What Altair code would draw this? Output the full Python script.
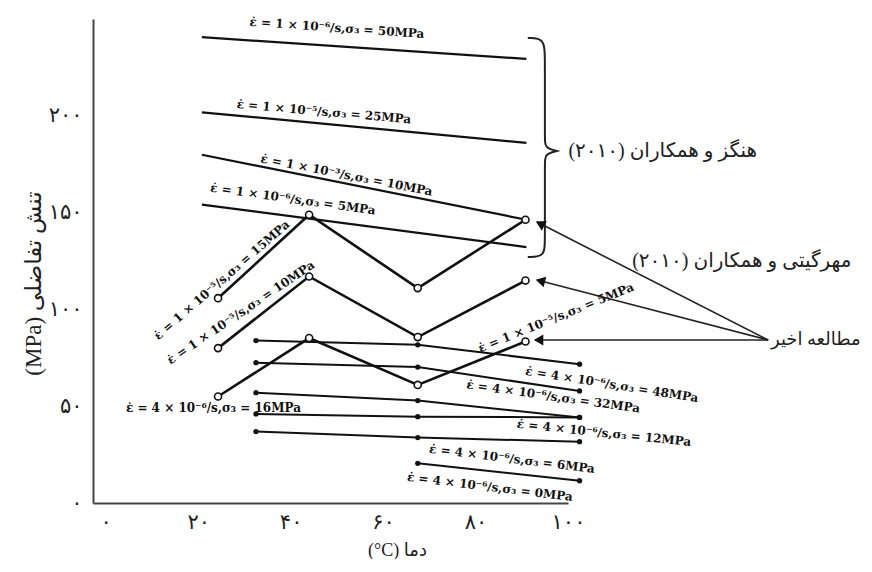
import math
import altair as alt
import pandas as pd

# ---------------- data ----------------
x_ticks = [0, 20, 40, 60, 80, 100]
x_tick_labels = ["۰", "۲۰", "۴۰", "۶۰", "۸۰", "۱۰۰"]
y_ticks = [0, 50, 100, 150, 200]
y_tick_labels = ["۰", "۵۰", "۱۰۰", "۱۵۰", "۲۰۰"]

x_title = "(°C) دما"
y_title = "(MPa) تنش تفاضلی"

EPS = "ε\u0307"

# Hengz et al. (2010) - straight lines
hengz_x = [20.8, 91.0]
hengz_start = [240.6, 201.8, 179.9, 154.1]
hengz_end = [229.4, 186.0, 146.3, 132.2]
hengz_labels = [
    EPS + " = 1 × 10⁻⁶/s,σ₃ = 50MPa",
    EPS + " = 1 × 10⁻⁵/s,σ₃ = 25MPa",
    EPS + " = 1 × 10⁻³/s,σ₃ = 10MPa",
    EPS + " = 1 × 10⁻⁶/s,σ₃ = 5MPa",
]

# recent study - open circles, zig-zag
recent_x = [24.3, 44.0, 67.5, 90.8]
recent_15 = [105.8, 148.9, 111.0, 146.3]
recent_10 = [80.0, 117.0, 85.7, 114.9]
recent_5 = [55.0, 85.2, 61.0, 83.4]
recent_labels = [
    EPS + " = 1 × 10⁻⁵/s,σ₃ = 15MPa",
    EPS + " = 1 × 10⁻⁵/s,σ₃ = 10MPa",
    EPS + " = 1 × 10⁻⁵/s,σ₃ = 5MPa",
]

# Mehrgiti et al. (2010) - filled dots
mehr_x = [32.5, 67.5, 102.5]
mehr_48 = [83.9, 81.7, 71.7]
mehr_32 = [72.5, 70.2, 57.9]
mehr_12 = [57.0, 52.9, 44.2]
mehr_16 = [46.0, 44.6, 44.2]
mehr_6 = [36.9, 33.8, 31.7]
mehr_0_x = [67.5, 102.5]
mehr_0 = [20.5, 11.5]
mehr_labels = [
    EPS + " = 4 × 10⁻⁶/s,σ₃ = 48MPa",
    EPS + " = 4 × 10⁻⁶/s,σ₃ = 32MPa",
    EPS + " = 4 × 10⁻⁶/s,σ₃ = 12MPa",
    EPS + " = 4 × 10⁻⁶/s,σ₃ = 16MPa",
    EPS + " = 4 × 10⁻⁶/s,σ₃ = 6MPa",
    EPS + " = 4 × 10⁻⁶/s,σ₃ = 0MPa",
]

name_hengz = "(۲۰۱۰) هنگز و همکاران"
name_mehr = "(۲۰۱۰) مهرگیتی و همکاران"
name_recent = "مطالعه اخیر"

# annotation anchors (data units)
label_x = [50.0, 47.2, 52.1, 40.5, 25.1, 29.2, 97.4, 109.5, 96.8, 107.8, 23.3, 87.9, 83.1]
label_y = [245.4, 202.1, 169.4, 157.0, 115.2, 98.4, 95.8, 61.2, 55.0, 36.2, 48.9, 22.8, 8.3]
label_angle = [4, 5, 11, 8, 319, 326, 338, 9, 8, 6, 0, 7, 7]

brace_x = [91.3, 95.0, 95.0, 95.0, 95.0, 97.6, 97.6, 97.6, 95.0, 95.0, 95.0, 95.0, 91.3]
brace_y = [240.2, 240.2, 228.8, 187.5, 183.5, 181.8, 181.8, 181.8, 180.1, 176.1, 135.8, 127.1, 127.1]

arrow_tail = (143.3, 84.2)
arrow_tip_x = [93.3, 93.3, 92.9]
arrow_tip_y = [145.1, 115.2, 84.2]

# ---------------- scales ----------------
W, H = 475, 484
XDOM = [-2.75, 100]
YDOM = [0, 250]
KX = W / (XDOM[1] - XDOM[0])
KY = H / (YDOM[1] - YDOM[0])

FONT_FA = "Liberation Serif, DejaVu Sans"


def label_expr(vals, labs):
    expr = "''"
    for v, l in reversed(list(zip(vals, labs))):
        expr = f"datum.value == {v} ? '{l}' : ({expr})"
    return expr


x_axis = alt.Axis(
    values=x_ticks, labelExpr=label_expr(x_ticks, x_tick_labels), ticks=False, tickSize=0,
    grid=False, domainColor="#444444", domainWidth=2, labelFont=FONT_FA, labelFontSize=21,
    labelColor="#222222", labelPadding=8, labelFlush=False, labelOverlap=False,
    title=x_title, titleFont=FONT_FA, titleFontSize=18, titleFontWeight="normal",
    titleColor="#222222", titleX=304, titleY=47, titleAlign="center", titleBaseline="middle",
)
y_axis = alt.Axis(
    values=y_ticks, labelExpr=label_expr(y_ticks, y_tick_labels), ticks=False, tickSize=0,
    grid=False, domainColor="#444444", domainWidth=2, labelFont=FONT_FA, labelFontSize=21,
    labelColor="#222222", labelPadding=11, labelFlush=False, labelOverlap=False,
    title=y_title, titleFont=FONT_FA, titleFontSize=23, titleFontWeight="normal",
    titleColor="#222222", titleX=-60, titleY=264, titleAngle=270, titleAlign="center",
    titleBaseline="middle",
)
xs = alt.Scale(domain=XDOM, nice=False, zero=False)
ys = alt.Scale(domain=YDOM, nice=False, zero=False)


def X(f):
    return alt.X(f, type="quantitative", scale=xs, axis=x_axis)


def Y(f):
    return alt.Y(f, type="quantitative", scale=ys, axis=y_axis)


# ---------------- tables ----------------
rows = []
for i, (a, b) in enumerate(zip(hengz_start, hengz_end)):
    rows.append({"s": f"h{i}", "x": hengz_x[0], "y": a})
    rows.append({"s": f"h{i}", "x": hengz_x[1], "y": b})
hengz_df = pd.DataFrame(rows)

rows = []
for name, ser in [("r15", recent_15), ("r10", recent_10), ("r5", recent_5)]:
    for x, y in zip(recent_x, ser):
        rows.append({"s": name, "x": x, "y": y})
recent_df = pd.DataFrame(rows)

rows = []
for name, xv, ser in [("m48", mehr_x, mehr_48), ("m32", mehr_x, mehr_32), ("m12", mehr_x, mehr_12),
                      ("m16", mehr_x, mehr_16), ("m6", mehr_x, mehr_6), ("m0", mehr_0_x, mehr_0)]:
    for x, y in zip(xv, ser):
        rows.append({"s": name, "x": x, "y": y})
mehr_df = pd.DataFrame(rows)

all_labels = hengz_labels + recent_labels + mehr_labels
lab_df = pd.DataFrame({"t": all_labels, "x": label_x, "y": label_y, "a": label_angle})

brace_df = pd.DataFrame({"x": brace_x, "y": brace_y, "o": list(range(len(brace_x)))})

arr_rows, head_rows = [], []
for tx, ty in zip(arrow_tip_x, arrow_tip_y):
    arr_rows.append({"x": arrow_tail[0], "y": arrow_tail[1], "x2": tx, "y2": ty})
    dx = (tx - arrow_tail[0]) * KX
    dy = -(ty - arrow_tail[1]) * KY
    n = math.hypot(dx, dy)
    ux, uy = dx / n, dy / n
    back = 5.0
    head_rows.append({
        "x": tx - ux * back / KX,
        "y": ty + uy * back / KY,
        "a": math.degrees(math.atan2(ux, -uy)) % 360,
    })
arr_df = pd.DataFrame(arr_rows)
head_df = pd.DataFrame(head_rows)

names_df = pd.DataFrame({
    "t": [name_hengz, name_mehr],
    "x": [120.5, 137.6],
    "y": [181.8, 125.0],
})
recent_name_df = pd.DataFrame({"t": [name_recent], "x": [143.9], "y": [84.2]})

# ---------------- layers ----------------
hengz_lines = alt.Chart(hengz_df).mark_line(color="#111111", strokeWidth=2.2).encode(
    x=X("x"), y=Y("y"), detail="s:N")

recent_lines = alt.Chart(recent_df).mark_line(color="#111111", strokeWidth=2.6).encode(
    x=X("x"), y=Y("y"), detail="s:N")
recent_pts = alt.Chart(recent_df).mark_point(
    shape="circle", filled=True, fill="white", stroke="#111111", strokeWidth=1.6, size=50, opacity=1
).encode(x=X("x"), y=Y("y"))

mehr_lines = alt.Chart(mehr_df).mark_line(color="#111111", strokeWidth=2.0).encode(
    x=X("x"), y=Y("y"), detail="s:N")
mehr_pts = alt.Chart(mehr_df).mark_point(
    shape="circle", filled=True, color="#111111", size=28, opacity=1
).encode(x=X("x"), y=Y("y"))

labels = alt.Chart(lab_df).mark_text(
    font="DejaVu Serif", fontWeight="bold", fontSize=12, color="#111111",
    align="center", baseline="middle"
).encode(x=X("x"), y=Y("y"), text="t:N", angle=alt.Angle("a:Q", scale=None))

brace = alt.Chart(brace_df).mark_line(color="#222222", strokeWidth=2, interpolate="basis").encode(
    x=X("x"), y=Y("y"), order="o:Q")

arrows = alt.Chart(arr_df).mark_rule(color="#222222", strokeWidth=1.6).encode(
    x=X("x"), y=Y("y"), x2="x2:Q", y2="y2:Q")
heads = alt.Chart(head_df).mark_point(
    shape="triangle", filled=True, color="#111111", size=120, opacity=1
).encode(x=X("x"), y=Y("y"), angle=alt.Angle("a:Q", scale=None))

names = alt.Chart(names_df).mark_text(
    font=FONT_FA, fontSize=20, color="#222222", align="center", baseline="middle"
).encode(x=X("x"), y=Y("y"), text="t:N")
recent_name = alt.Chart(recent_name_df).mark_text(
    font=FONT_FA, fontSize=18, color="#222222", align="left", baseline="middle"
).encode(x=X("x"), y=Y("y"), text="t:N")

chart = alt.layer(
    hengz_lines, mehr_lines, mehr_pts, recent_lines, recent_pts, brace, arrows, heads,
    labels, names, recent_name,
).properties(
    width=W, height=H,
    autosize=alt.AutoSizeParams(type="none"),
    padding={"left": 85, "top": 11, "right": 294, "bottom": 56},
    background="white",
).configure_view(stroke=None)

chart.save("out.html", embed_options={"renderer": "svg", "actions": False})
